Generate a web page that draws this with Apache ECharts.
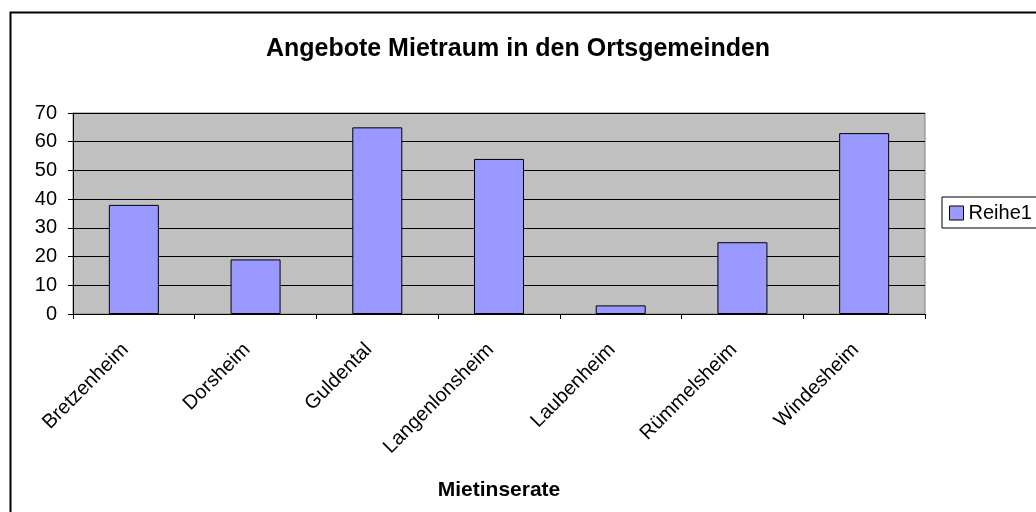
<!DOCTYPE html>
<html>
<head>
<meta charset="utf-8">
<script src="https://cdn.jsdelivr.net/npm/echarts@6/dist/echarts.min.js"></script>
<style>
  html, body { margin: 0; padding: 0; background: #fff; }
  #chart { width: 1036px; height: 512px; }
</style>
</head>
<body>
<div id="chart"></div>
<script>
// Werte
const categories = ['Bretzenheim', 'Dorsheim', 'Guldental', 'Langenlonsheim', 'Laubenheim', 'Rümmelsheim', 'Windesheim'];
const reihe1 = [38, 19, 65, 54, 3, 25, 63];
const yTicks = [0, 10, 20, 30, 40, 50, 60, 70];

const font = "'Liberation Sans', Arial, sans-serif";
const myChart = echarts.init(document.getElementById('chart'));
myChart.setOption({
  animation: false,
  backgroundColor: '#fff',
  textStyle: { fontFamily: font, color: '#000' },
  title: {
    text: 'Angebote Mietraum in den Ortsgemeinden',
    left: 'center',
    top: 32,
    textStyle: { fontFamily: font, fontSize: 25, fontWeight: 'bold', color: '#000' },
  },
  graphic: [
    {
      type: 'rect',
      left: 8,
      top: 10,
      shape: { width: 1100, height: 600 },
      style: { fill: 'none', stroke: '#000', lineWidth: 2 },
      silent: true,
    },
  ],
  legend: {
    data: ['Reihe1'],
    left: 942,
    top: 197,
    orient: 'vertical',
    padding: [6, 20, 5, 7],
    borderColor: '#000',
    borderWidth: 1,
    backgroundColor: '#fff',
    icon: 'rect',
    itemWidth: 14,
    itemHeight: 14,
    itemStyle: { borderColor: '#000', borderWidth: 1 },
    textStyle: { fontFamily: font, fontSize: 20, color: '#000' },
  },
  grid: {
    left: 73,
    right: 111,
    top: 113,
    bottom: 198,
    show: true,
    backgroundColor: '#c0c0c0',
    borderColor: '#808080',
    borderWidth: 1,
  },
  xAxis: {
    type: 'category',
    data: categories,
    name: 'Mietinserate',
    nameLocation: 'middle',
    nameGap: 166,
    nameTextStyle: { fontFamily: font, fontSize: 21, fontWeight: 'bold', color: '#000' },
    axisLine: { lineStyle: { color: '#000', width: 1 } },
    axisTick: { show: true, length: 5, lineStyle: { color: '#000' } },
    axisLabel: {
      rotate: 45,
      margin: 24,
      padding: [0, 12, 0, 0],
      fontSize: 20,
      fontFamily: font,
      color: '#000',
      interval: 0,
    },
    splitLine: { show: false },
  },
  yAxis: {
    type: 'value',
    min: yTicks[0],
    max: yTicks[yTicks.length - 1],
    interval: 10,
    axisLine: { show: true, lineStyle: { color: '#000', width: 1 } },
    axisTick: { show: true, length: 5, lineStyle: { color: '#000' } },
    axisLabel: { fontSize: 20, fontFamily: font, color: '#000', margin: 16 },
    splitLine: { lineStyle: { color: '#000', width: 1 } },
  },
  series: [
    {
      name: 'Reihe1',
      type: 'bar',
      data: reihe1,
      barWidth: 50,
      itemStyle: { color: '#9999ff', borderColor: '#000', borderWidth: 1 },
    },
  ],
});
</script>
</body>
</html>
